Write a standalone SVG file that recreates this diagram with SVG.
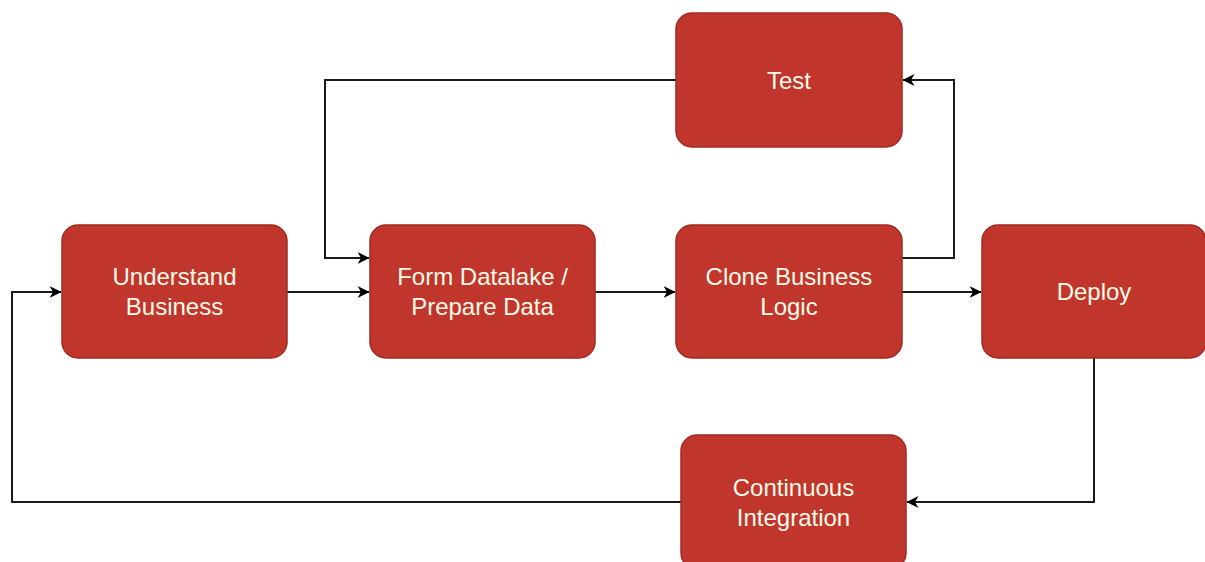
<svg xmlns="http://www.w3.org/2000/svg" width="1205" height="562" viewBox="0 0 1205 562">
  <style>
    .box { fill: #c0362c; stroke: #a02a20; stroke-width: 1.5; }
    .label { fill: #fffbe9; font-family: "Liberation Sans", Arial, sans-serif; font-size: 24px; text-anchor: middle; }
    .wire { fill: none; stroke: #1a1a1a; stroke-width: 2; }
  </style>
  <defs>
    <marker id="arrow" viewBox="0 0 12 12" refX="11.5" refY="6" markerWidth="12" markerHeight="12" markerUnits="userSpaceOnUse" orient="auto">
      <path d="M0,0 L12,6 L0,12 L3.5,6 Z" fill="#000"/>
    </marker>
  </defs>
  <rect width="1205" height="562" fill="#ffffff"/>

  <g id="connectors">
    <path class="wire" d="M287,292 H369" marker-end="url(#arrow)"/>
    <path class="wire" d="M595,292 H675" marker-end="url(#arrow)"/>
    <path class="wire" d="M902,292 H981" marker-end="url(#arrow)"/>
    <path class="wire" d="M902,258 H954 V80 H903" marker-end="url(#arrow)"/>
    <path class="wire" d="M676,80 H325 V258 H369" marker-end="url(#arrow)"/>
    <path class="wire" d="M1094,358 V502 H907" marker-end="url(#arrow)"/>
    <path class="wire" d="M681,502 H12 V292 H61" marker-end="url(#arrow)"/>
  </g>

  <g id="understand-business">
    <rect class="box" x="62" y="225" width="225" height="133" rx="16"/>
    <text class="label" x="174.5" y="284.5">Understand</text>
    <text class="label" x="174.5" y="314.5">Business</text>
  </g>

  <g id="form-datalake">
    <rect class="box" x="370" y="225" width="225" height="133" rx="16"/>
    <text class="label" x="482.5" y="284.5">Form Datalake /</text>
    <text class="label" x="482.5" y="314.5">Prepare Data</text>
  </g>

  <g id="clone-business-logic">
    <rect class="box" x="676" y="225" width="226" height="133" rx="16"/>
    <text class="label" x="789" y="284.5">Clone Business</text>
    <text class="label" x="789" y="314.5">Logic</text>
  </g>

  <g id="deploy">
    <rect class="box" x="982" y="225" width="224" height="133" rx="16"/>
    <text class="label" x="1094" y="300">Deploy</text>
  </g>

  <g id="test">
    <rect class="box" x="676" y="13" width="226" height="134" rx="16"/>
    <text class="label" x="789" y="89">Test</text>
  </g>

  <g id="continuous-integration">
    <rect class="box" x="681" y="435" width="225" height="134" rx="16"/>
    <text class="label" x="793.5" y="495.5">Continuous</text>
    <text class="label" x="793.5" y="525.5">Integration</text>
  </g>
</svg>
